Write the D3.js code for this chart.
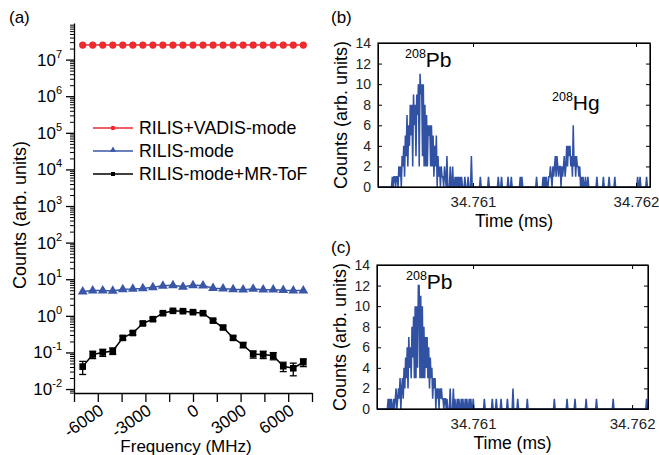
<!DOCTYPE html>
<html>
<head>
<meta charset="utf-8">
<script src="https://cdn.jsdelivr.net/npm/d3@7"></script>
<style>
  body { margin: 0; background: #fff; }
  svg { font-family: "Liberation Sans", Arial, sans-serif; }
</style>
</head>
<body>
<div id="outer"></div>
<script>
////////// DATA //////////

// panel (a): frequency scan
const freqs = [-6952, -6320, -5688, -5056, -4424, -3792, -3160, -2528, -1896, -1264, -632, 0,
  632, 1264, 1896, 2528, 3160, 3792, 4424, 5056, 5688, 6320, 6952];
const vadisCounts = [2.5e7, 2.5e7, 2.5e7, 2.5e7, 2.5e7, 2.5e7, 2.5e7, 2.5e7, 2.5e7, 2.5e7, 2.5e7, 2.5e7,
  2.5e7, 2.5e7, 2.5e7, 2.5e7, 2.5e7, 2.5e7, 2.5e7, 2.5e7, 2.5e7, 2.5e7, 2.5e7];
const rilisCounts = [4.6, 4.9, 4.9, 4.8, 5.3, 5.4, 5.6, 6.0, 6.6, 6.8, 6.2, 6.8,
  6.7, 5.7, 5.5, 5.3, 5.2, 5.4, 5.2, 5.2, 5.0, 4.9, 4.9];
const mrtofCounts = [0.041, 0.088, 0.10, 0.11, 0.25, 0.34, 0.62, 0.81, 1.18, 1.37, 1.34, 1.26,
  1.18, 0.74, 0.48, 0.25, 0.16, 0.09, 0.088, 0.081, 0.042, 0.037, 0.054];
const mrtofErr = [0.016, 0.02, 0.022, 0.022, 0.03, 0.04, 0.06, 0.08, 0.1, 0.1, 0.1, 0.1,
  0.1, 0.07, 0.05, 0.03, 0.025, 0.02, 0.02, 0.018, 0.012, 0.014, 0.013];
const legendLabels = ['RILIS+VADIS-mode', 'RILIS-mode', 'RILIS-mode+MR-ToF'];
const freqTicks = [-6000, -3000, 0, 3000, 6000];

// panels (b),(c): time-of-flight spectra, bin width in ms
const binW = 0.000005;
const tofTicks = [34.761, 34.762];
const countTicks = [0, 2, 4, 6, 8, 10, 12, 14];

// (b) RILIS-mode
const pbStartB = 34.7605;
const pbCountsB = [0, 1, 0, 1, 1, 0, 1, 1, 0, 2, 1, 2, 0, 3, 2, 4, 1, 5, 3, 7, 2, 6, 4, 8, 5, 8, 2,
  9, 6, 8, 3, 9, 7, 10, 2, 11, 9, 10, 3, 10, 2, 8, 2, 7, 2, 6, 5, 6, 2, 6, 2, 5, 1, 4, 2, 5,
  0, 3, 1, 2, 0, 2, 1, 1, 0, 2, 1];
const hgStartB = 34.76144;
const hgCountsB = [1, 0, 1, 0, 0, 1, 1, 2, 1, 0, 2, 1, 2, 3, 1, 3, 2, 1, 2, 2, 0, 2, 1, 2, 3, 1, 2,
  4, 2, 4, 3, 4, 2, 3, 1, 6, 2, 3, 1, 3, 2, 2, 1, 2, 0, 1, 0, 1, 0, 0, 1];
const eventsB = [[34.760842, 3], [34.760859, 2], [34.760877, 2], [34.76089, 1], [34.7609, 1],
  [34.760908, 1], [34.76092, 1], [34.760931, 1], [34.760951, 1], [34.760971, 1], [34.760992, 3],
  [34.761043, 1], [34.761094, 1], [34.761155, 1], [34.761176, 1], [34.761217, 1], [34.761237, 1],
  [34.761288, 1], [34.761299, 1], [34.761391, 1], [34.761429, 1], [34.761706, 1], [34.761761, 1],
  [34.761798, 1], [34.761834, 1], [34.761871, 1], [34.762012, 1], [34.762025, 1], [34.762067, 1]];

// (c) RILIS-mode, Hg suppressed
const pbStartC = 34.76046;
const pbCountsC = [0, 1, 0, 1, 0, 1, 0, 0, 1, 0, 1, 2, 0, 1, 2, 1, 3, 0, 2, 3, 1, 4, 2, 5, 3, 6, 2,
  7, 4, 6, 3, 8, 5, 9, 3, 10, 3, 10, 4, 12, 12, 3, 11, 3, 10, 3, 8, 3, 7, 4, 7, 3, 6, 2, 5, 3, 4,
  1, 3, 2, 3, 0, 2, 1, 2, 0, 2, 1, 2, 1, 1, 0, 1, 1];
const eventsC = [[34.760837, 1], [34.760855, 2], [34.760874, 2], [34.760887, 1], [34.760899, 1],
  [34.760912, 1], [34.760925, 1], [34.760937, 1], [34.76095, 1], [34.760962, 1], [34.760975, 1],
  [34.760987, 1], [34.761002, 1], [34.761069, 1], [34.76112, 1], [34.761145, 1], [34.761176, 1],
  [34.761214, 1], [34.761253, 2], [34.761283, 1], [34.761343, 1], [34.761509, 1], [34.761589, 1],
  [34.761642, 1], [34.761709, 1], [34.761778, 1], [34.761879, 1], [34.762092, 1]];

////////// SETUP //////////
const W = 659, H = 455;
const red = '#ee2a2e', blue = '#3a57a7', tofBlue = '#3152a3';

const svg = d3.select('#outer').append('svg')
  .attr('width', W).attr('height', H);

////////// PANEL (a) //////////
const xA = d3.scaleLinear().domain([-7500, 7500]).range([74, 312]);
const yA = d3.scaleLog().domain([0.0078, 1e8]).range([393, 23]);

const gA = svg.append('g');

// y axis: minor then major
const minorY = [];
for (let e = -3; e <= 7; e++) for (let m = 2; m <= 9; m++) {
  const v = m * Math.pow(10, e);
  if (v >= 0.0078 && v <= 1e8) minorY.push(v);
}
const majorY = d3.range(-2, 8).map(e => Math.pow(10, e));

gA.append('g').attr('transform', 'translate(74,0)')
  .call(d3.axisLeft(yA).tickValues(minorY).tickSize(4).tickFormat('').tickSizeOuter(0))
  .call(g => g.select('.domain').remove());
gA.append('g').attr('transform', 'translate(74,0)')
  .call(d3.axisLeft(yA).tickValues(majorY).tickSize(8).tickFormat('').tickSizeOuter(0))
  .call(g => g.selectAll('line, path').attr('stroke-width', 1.3));

majorY.forEach((v, i) => {
  const t = gA.append('text')
    .attr('x', 62).attr('y', yA(v) + 6)
    .attr('text-anchor', 'end')
    .attr('font-size', 17);
  t.append('tspan').text('10');
  t.append('tspan').attr('font-size', 11).attr('dy', -8).text(String(i - 2));
});

// x axis
gA.append('g').attr('transform', 'translate(0,393)')
  .call(d3.axisBottom(xA).tickValues(d3.range(-7500, 7501, 1500)).tickSize(9).tickFormat('').tickSizeOuter(0))
  .call(g => g.selectAll('line, path').attr('stroke-width', 1.3));

freqTicks.forEach(v => {
  gA.append('text')
    .attr('transform', `translate(${xA(v) + 7},413) rotate(-35)`)
    .attr('text-anchor', 'end')
    .attr('font-size', 17)
    .text(v);
});

gA.append('text').attr('x', 186).attr('y', 452).attr('text-anchor', 'middle')
  .attr('font-size', 17).text('Frequency (MHz)');
gA.append('text').attr('transform', 'translate(26,215) rotate(-90)')
  .attr('text-anchor', 'middle').attr('font-size', 18).text('Counts (arb. units)');
gA.append('text').attr('x', 9).attr('y', 23).attr('font-size', 17).text('(a)');

const lineA = (ys) => d3.line().x((d, i) => xA(freqs[i])).y(d => yA(d))(ys);
const triangle = d3.symbol().type(d3.symbolTriangle);
const square = d3.symbol().type(d3.symbolSquare);

// RILIS+VADIS
gA.append('path').attr('d', lineA(vadisCounts)).attr('fill', 'none').attr('stroke', red).attr('stroke-width', 1.5);
gA.selectAll('.vad').data(vadisCounts).join('circle')
  .attr('cx', (d, i) => xA(freqs[i])).attr('cy', d => yA(d)).attr('r', 3.6).attr('fill', red);

// RILIS
gA.append('path').attr('d', lineA(rilisCounts)).attr('fill', 'none').attr('stroke', blue).attr('stroke-width', 1.5);
gA.selectAll('.ril').data(rilisCounts).join('path')
  .attr('transform', (d, i) => `translate(${xA(freqs[i])},${yA(d)})`)
  .attr('d', triangle.size(42)()).attr('fill', blue);

// RILIS + MR-ToF with error bars
const errG = gA.append('g').attr('stroke', '#000').attr('stroke-width', 1.3);
mrtofCounts.forEach((d, i) => {
  const x = xA(freqs[i]);
  const y0 = yA(d - mrtofErr[i]), y1 = yA(d + mrtofErr[i]);
  errG.append('line').attr('x1', x).attr('x2', x).attr('y1', y0).attr('y2', y1);
  errG.append('line').attr('x1', x - 3.5).attr('x2', x + 3.5).attr('y1', y0).attr('y2', y0);
  errG.append('line').attr('x1', x - 3.5).attr('x2', x + 3.5).attr('y1', y1).attr('y2', y1);
});
gA.append('path').attr('d', lineA(mrtofCounts)).attr('fill', 'none').attr('stroke', '#000').attr('stroke-width', 1.5);
gA.selectAll('.mr').data(mrtofCounts).join('path')
  .attr('transform', (d, i) => `translate(${xA(freqs[i])},${yA(d)})`)
  .attr('d', square.size(44)()).attr('fill', '#000');

// legend
const legY = [128, 151, 174];
const legColors = [red, blue, '#000'];
legendLabels.forEach((lab, i) => {
  const g = gA.append('g').attr('transform', `translate(93,${legY[i]})`);
  g.append('line').attr('x1', 0).attr('x2', 40).attr('stroke', legColors[i]).attr('stroke-width', 1.3);
  if (i === 0) g.append('circle').attr('cx', 20).attr('r', 2.3).attr('fill', red);
  if (i === 1) g.append('path').attr('transform', 'translate(20,-1)').attr('d', triangle.size(16)()).attr('fill', blue);
  if (i === 2) g.append('path').attr('transform', 'translate(20,0)').attr('d', square.size(16)()).attr('fill', '#000');
  g.append('text').attr('x', 46).attr('y', 6).attr('font-size', 17.8).text(lab);
});

////////// PANELS (b),(c) //////////
function buildSeries(segments, events, t0, t1) {
  const n = Math.round((t1 - t0) / binW);
  const counts = new Array(n + 1).fill(0);
  const put = (t, c) => {
    const k = Math.round((t - t0) / binW);
    if (k >= 0 && k <= n) counts[k] = c;
  };
  segments.forEach(s => s.counts.forEach((c, i) => put(s.start + i * binW, c)));
  events.forEach(([t, c]) => put(t, c));
  return counts.map((c, k) => ({ t: t0 + k * binW, c }));
}

function tofPanel(opts) {
  const { left, right, top, bottom, domain, series, id } = opts;
  const x = d3.scaleLinear().domain(domain).range([left, right]);
  const y = d3.scaleLinear().domain([0, 14]).range([bottom, top]);
  const g = svg.append('g');

  g.append('clipPath').attr('id', id).append('rect')
    .attr('x', left).attr('y', top - 2).attr('width', right - left).attr('height', bottom - top + 2);

  g.append('path')
    .attr('clip-path', `url(#${id})`)
    .attr('d', d3.line().x(d => x(d.t)).y(d => y(d.c))(series))
    .attr('fill', 'none').attr('stroke', tofBlue).attr('stroke-width', 1.55)
    .attr('stroke-linejoin', 'miter');

  const axG = g.append('g');
  axG.append('g').attr('class', 'xb').attr('transform', `translate(0,${bottom})`)
    .call(d3.axisBottom(x).tickValues(tofTicks).tickSizeInner(-4).tickSizeOuter(0).tickPadding(9).tickFormat(d3.format('.3f')));
  axG.append('g').attr('transform', `translate(0,${top})`)
    .call(d3.axisTop(x).tickValues(tofTicks).tickSizeInner(-4).tickSizeOuter(0).tickFormat(''));
  axG.append('g').attr('class', 'yl').attr('transform', `translate(${left},0)`)
    .call(d3.axisLeft(y).tickValues(countTicks).tickSizeInner(-4).tickSizeOuter(0).tickPadding(7));
  axG.append('g').attr('transform', `translate(${right},0)`)
    .call(d3.axisRight(y).tickValues(countTicks).tickSizeInner(-4).tickSizeOuter(0).tickFormat(''));
  axG.selectAll('g').attr('font-size', null).attr('font-family', null);
  axG.selectAll('text').attr('fill', '#222');
  axG.select('.xb').selectAll('text').attr('font-size', 15);
  axG.select('.yl').selectAll('text').attr('font-size', 14);

  g.append('rect').attr('x', left).attr('y', top).attr('width', right - left).attr('height', bottom - top)
    .attr('fill', 'none').attr('stroke', '#000').attr('stroke-width', 1.2);

  g.append('text').attr('transform', `translate(${left - 31},${(top + bottom) / 2}) rotate(-90)`)
    .attr('text-anchor', 'middle').attr('font-size', 18).text('Counts (arb. units)');
  g.append('text').attr('x', (left + right) / 2).attr('y', bottom + 40).attr('text-anchor', 'middle')
    .attr('font-size', 17.5).text('Time (ms)');
  return { x, y, g };
}

function isotope(g, x, y, mass, sym) {
  const t = g.append('text').attr('x', x).attr('y', y).attr('font-size', 21);
  t.append('tspan').attr('font-size', 12.5).attr('dy', -9).text(mass);
  t.append('tspan').attr('dy', 9).text(sym);
}

const seriesB = buildSeries([{ start: pbStartB, counts: pbCountsB }, { start: hgStartB, counts: hgCountsB }],
  eventsB, 34.76042, 34.762086);
const pB = tofPanel({ left: 378, right: 650, top: 43, bottom: 187, domain: [34.760417, 34.762086], series: seriesB, id: 'clipB' });
isotope(pB.g, 405, 67, '208', 'Pb');
isotope(pB.g, 552, 110, '208', 'Hg');
svg.append('text').attr('x', 331).attr('y', 23).attr('font-size', 17).text('(b)');

const seriesC = buildSeries([{ start: pbStartC, counts: pbCountsC }], eventsC, 34.760396, 34.7621);
const pC = tofPanel({ left: 377, right: 648, top: 265, bottom: 409, domain: [34.760396, 34.7621], series: seriesC, id: 'clipC' });
isotope(pC.g, 406, 289, '208', 'Pb');
svg.append('text').attr('x', 331).attr('y', 253).attr('font-size', 17).text('(c)');
</script>
</body>
</html>
